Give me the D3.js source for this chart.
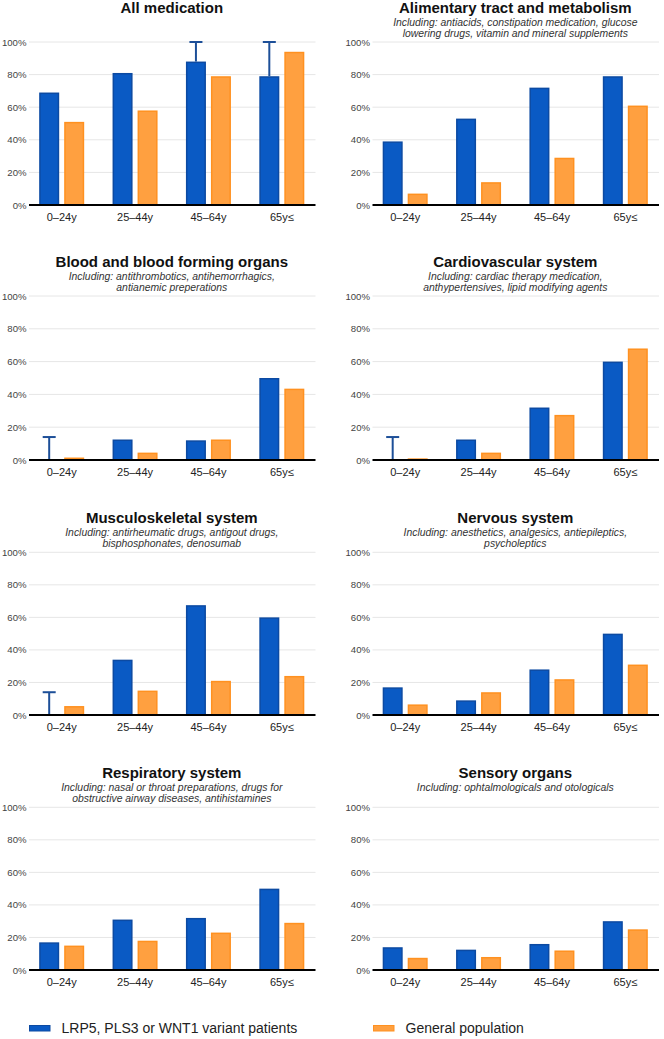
<!DOCTYPE html>
<html>
<head>
<meta charset="utf-8">
<script src="https://cdn.jsdelivr.net/npm/d3@7"></script>
<style>
  html, body { margin: 0; padding: 0; background: #fff; }
  svg { display: block; font-family: "Liberation Sans", Arial, sans-serif; }
</style>
</head>
<body>
<svg id="chart" width="664" height="1039"></svg>
<script>
// ---------- data ----------
const ageGroups = ["0–24y", "25–44y", "45–64y", "65y≤"];
const yTicks = [0, 20, 40, 60, 80, 100];
const seriesNames = ["LRP5, PLS3 or WNT1 variant patients", "General population"];

const panelTitles = [
  "All medication",
  "Alimentary tract and metabolism",
  "Blood and blood forming organs",
  "Cardiovascular system",
  "Musculoskeletal system",
  "Nervous system",
  "Respiratory system",
  "Sensory organs"
];

const panelSubtitles = [
  [],
  ["Including: antiacids, constipation medication, glucose", "lowering drugs, vitamin and mineral supplements"],
  ["Including: antithrombotics, antihemorrhagics,", "antianemic preperations"],
  ["Including: cardiac therapy medication,", "anthypertensives, lipid modifying agents"],
  ["Including: antirheumatic drugs, antigout drugs,", "bisphosphonates, denosumab"],
  ["Including: anesthetics, analgesics, antiepileptics,", "psycholeptics"],
  ["Including: nasal or throat preparations, drugs for", "obstructive airway diseases, antihistamines"],
  ["Including: ophtalmologicals and otologicals"]
];

const patientValues = [
  [69, 81, 88, 79],
  [39, 53, 72, 79],
  [0, 12.5, 12, 50],
  [0, 12.5, 32, 60],
  [0, 34, 67.5, 60],
  [17, 9, 28, 50],
  [17, 31, 32, 50],
  [14, 12.5, 16, 30]
];

const populationValues = [
  [51, 58, 79, 94],
  [7, 14, 29, 61],
  [1.5, 4.5, 12.5, 43.5],
  [1, 4.5, 27.5, 68],
  [5.5, 15, 21, 24],
  [6.5, 14, 22, 31],
  [15, 18, 23, 29],
  [7.5, 8, 12, 25]
];

const patientUpper = [
  [null, null, 100, 100],
  [null, null, null, null],
  [14, null, null, null],
  [14, null, null, null],
  [14, null, null, null],
  [null, null, null, null],
  [null, null, null, null],
  [null, null, null, null]
];

// ---------- layout & style ----------
const colOffsets = [0, 343.5];
const rowTop = [42, 296, 552.3, 807.3];   // y of 100%
const rowBase = [205, 460, 715, 970];     // y of 0%
const blueFill = "#0a5ac4", blueStroke = "#0c4aa2";
const orangeFill = "#ffa040", orangeStroke = "#ff9120";
const errColor = "#1d4f98";

const svg = d3.select("#chart");

panelTitles.forEach((title, i) => {
  const col = i % 2, row = Math.floor(i / 2);
  const L = colOffsets[col];
  const y100 = rowTop[row], y0 = rowBase[row];
  const g = svg.append("g");

  const y = d3.scaleLinear().domain([0, 100]).range([y0, y100]);
  const x = d3.scaleBand().domain(ageGroups).range([L + 25, L + 318.5]);
  const x1 = d3.scaleBand().domain([0, 1]).range([0, 45]).paddingInner(0.2);

  // gridlines
  g.append("g").selectAll("line").data(yTicks.filter(t => t > 0)).join("line")
    .attr("x1", L + 29).attr("x2", L + 315.5)
    .attr("y1", d => y(d)).attr("y2", d => y(d))
    .attr("stroke", "#e6e6e6").attr("stroke-width", 1);

  // y axis
  const ya = g.append("g").attr("transform", `translate(${L + 29},0)`)
    .call(d3.axisLeft(y).tickValues(yTicks).tickFormat(d => d + "%").tickSize(0).tickPadding(2.5));
  ya.select(".domain").remove();
  ya.selectAll("text").attr("font-size", 9.6).attr("fill", "#444")
    .attr("font-family", "'Liberation Sans', Arial, sans-serif");

  // x axis labels
  const xa = g.append("g").attr("transform", `translate(0,${y0})`)
    .call(d3.axisBottom(x).tickSize(0).tickPadding(8));
  xa.select(".domain").remove();
  xa.selectAll("text").attr("font-size", 11).attr("fill", "#222")
    .attr("font-family", "'Liberation Sans', Arial, sans-serif");

  const groupX = d => x(d) + x.bandwidth() / 2 - 22.5;

  // bars - patients
  const pv = ageGroups.map((a, k) => ({ a, v: patientValues[i][k], u: patientUpper[i][k] }));
  g.append("g").selectAll("rect").data(pv.filter(d => d.v > 0)).join("rect")
    .attr("x", d => groupX(d.a) + x1(0) + 0.75)
    .attr("width", x1.bandwidth() - 1.5)
    .attr("y", d => y(d.v) + 0.75)
    .attr("height", d => Math.max(0, y0 - y(d.v) - 0.75))
    .attr("fill", blueFill).attr("stroke", blueStroke).attr("stroke-width", 1.5);

  // bars - population
  const gv = ageGroups.map((a, k) => ({ a, v: populationValues[i][k] }));
  g.append("g").selectAll("rect").data(gv.filter(d => d.v > 0)).join("rect")
    .attr("x", d => groupX(d.a) + x1(1) + 0.75)
    .attr("width", x1.bandwidth() - 1.5)
    .attr("y", d => y(d.v) + 0.75)
    .attr("height", d => Math.max(0, y0 - y(d.v) - 0.75))
    .attr("fill", orangeFill).attr("stroke", orangeStroke).attr("stroke-width", 1.5);

  // error bars (upper)
  const eb = pv.filter(d => d.u != null);
  const ebG = g.append("g").attr("stroke", errColor).attr("stroke-width", 2);
  ebG.selectAll("line.v").data(eb).join("line").attr("class", "v")
    .attr("x1", d => groupX(d.a) + x1(0) + x1.bandwidth() / 2)
    .attr("x2", d => groupX(d.a) + x1(0) + x1.bandwidth() / 2)
    .attr("y1", d => y(d.v)).attr("y2", d => y(d.u));
  ebG.selectAll("line.c").data(eb).join("line").attr("class", "c")
    .attr("x1", d => groupX(d.a) + x1(0) + x1.bandwidth() / 2 - 6.5)
    .attr("x2", d => groupX(d.a) + x1(0) + x1.bandwidth() / 2 + 6.5)
    .attr("y1", d => y(d.u)).attr("y2", d => y(d.u));

  // baseline
  g.append("line").attr("x1", L + 29).attr("x2", L + 315.5)
    .attr("y1", y0).attr("y2", y0).attr("stroke", "#000").attr("stroke-width", 2);

  // title
  const cx = L + 171.8;
  g.append("text").attr("x", cx).attr("y", y100 - 29)
    .attr("text-anchor", "middle").attr("font-size", 15).attr("font-weight", "bold")
    .attr("fill", "#111").text(title);

  g.append("g").selectAll("text").data(panelSubtitles[i]).join("text")
    .attr("x", cx).attr("y", (d, k) => y100 - 16.4 + k * 11.3)
    .attr("text-anchor", "middle").attr("font-size", 10.4).attr("font-style", "italic")
    .attr("fill", "#333").text(d => d);
});

// legend
const legendX = [29, 373];
const legendFills = [blueFill, orangeFill], legendStrokes = [blueStroke, orangeStroke];
const lg = svg.append("g");
lg.selectAll("rect").data(seriesNames).join("rect")
  .attr("x", (d, k) => legendX[k] + 0.5).attr("y", 1025.5)
  .attr("width", 20.5).attr("height", 5.5)
  .attr("fill", (d, k) => legendFills[k]).attr("stroke", (d, k) => legendStrokes[k]).attr("stroke-width", 1);
lg.selectAll("text").data(seriesNames).join("text")
  .attr("x", (d, k) => legendX[k] + 32.5).attr("y", 1033.2)
  .attr("font-size", 14).attr("fill", "#222").text(d => d);
</script>
</body>
</html>
